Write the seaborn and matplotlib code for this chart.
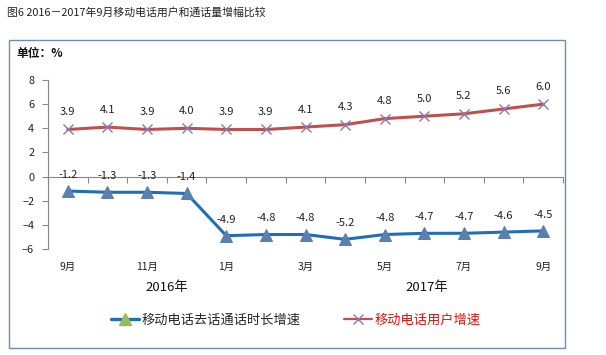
import matplotlib
matplotlib.use('Agg')
import matplotlib.pyplot as plt
import seaborn as sns
import pandas as pd
from matplotlib.patches import Rectangle
from matplotlib.lines import Line2D

# Data
months = ['9月', '10月', '11月', '12月', '1月', '2月', '3月', '4月', '5月', '6月', '7月', '8月', '9月']
call_growth = [-1.2, -1.3, -1.3, -1.4, -4.9, -4.8, -4.8, -5.2, -4.8, -4.7, -4.7, -4.6, -4.5]
user_growth = [3.9, 4.1, 3.9, 4.0, 3.9, 3.9, 4.1, 4.3, 4.8, 5.0, 5.2, 5.6, 6.0]
shown_months = [0, 2, 4, 6, 8, 10, 12]
year_labels = ['2016年', '2017年']
year_pos = [2.5, 9.05]
call_name = '移动电话去话通话时长增速'
user_name = '移动电话用户增速'

df = pd.DataFrame({'idx': range(len(months)), 'call': call_growth, 'user': user_growth})

sns.set_style('white')
plt.rcParams['font.family'] = ['Noto Sans CJK SC', 'DejaVu Sans']

W, H = 606, 355
fig = plt.figure(figsize=(W / 100, H / 100), dpi=100)
ax = fig.add_axes([48 / W, 1 - 249 / H, (563 - 48) / W, (249 - 80) / H])

blue = '#1F6FB8'
red = '#C0504D'

sns.lineplot(data=df, x='idx', y='user', ax=ax, color=red, linewidth=2.2,
             marker='x', markersize=7.5, markeredgecolor='#8A78B0', markeredgewidth=1.0)
sns.lineplot(data=df, x='idx', y='call', ax=ax, color=blue, linewidth=2.2,
             marker='^', markersize=8, markerfacecolor='#5A80AE', markeredgecolor='#5A80AE')

# data labels
for i, v in enumerate(user_growth):
    ax.annotate(f'{v:.1f}', (i, v), xytext=(0, 9), textcoords='offset points',
                ha='center', va='bottom', fontsize=8, color='#222222')
for i, v in enumerate(call_growth):
    ax.annotate(f'{v:.1f}', (i, v), xytext=(0, 8), textcoords='offset points',
                ha='center', va='bottom', fontsize=8, color='#222222')

ax.set_xlim(-0.5, len(months) - 0.5)
ax.set_ylim(-6, 8)
ax.set_yticks(range(-6, 9, 2))
ax.set_xticks([i - 0.5 for i in range(len(months) + 1)])
ax.set_xticklabels([])
ax.tick_params(axis='x', direction='out', length=4, color='#888888', bottom=True)
ax.tick_params(axis='y', direction='out', length=4, color='#888888', left=True,
               labelsize=7.8, labelcolor='#222222', pad=6)
ax.set_xlabel('')
ax.set_ylabel('')

for s in ['top', 'right']:
    ax.spines[s].set_visible(False)
ax.spines['bottom'].set_position(('data', 0))
ax.spines['bottom'].set_color('#888888')
ax.spines['left'].set_color('#888888')
ax.spines['bottom'].set_linewidth(0.8)
ax.spines['left'].set_linewidth(0.8)

# category labels below the plot
xt = ax.get_xaxis_transform()
for i in shown_months:
    ax.text(i, -0.107, months[i], transform=xt, ha='center', va='center',
            fontsize=7.5, color='#222222')
for lab, p in zip(year_labels, year_pos):
    ax.text(p, -0.225, lab, transform=xt, ha='center', va='center',
            fontsize=9.5, color='#111111')

# legend
handles = [
    Line2D([0], [0], color=blue, linewidth=2.4, marker='^', markersize=8,
           markerfacecolor='#9BBB59', markeredgecolor='#9BBB59'),
    Line2D([0], [0], color=red, linewidth=1.6, marker='x', markersize=7,
           markeredgecolor='#8A78B0'),
]
leg = fig.legend(handles, [call_name, user_name], loc='center', ncol=2,
                 bbox_to_anchor=(296 / W, 1 - 320 / H), frameon=False,
                 fontsize=9.5, handlelength=2.1, handletextpad=0.2,
                 columnspacing=3.3)
leg.get_texts()[1].set_color('#E01010')

# outer frame, title and unit
fig.patches.append(Rectangle((9 / W, 1 - 348 / H), (565 - 9) / W, (348 - 40) / H,
                             transform=fig.transFigure, fill=False,
                             edgecolor='#6E8DB5', linewidth=1.0))
fig.text(7 / W, 1 - 12 / H, '图6 2016－2017年9月移动电话用户和通话量增幅比较',
         ha='left', va='center', fontsize=7.8, color='#222222')
fig.text(16 / W, 1 - 54 / H, '单位：%', ha='left', va='center',
         fontsize=8.5, fontweight='bold', color='#111111')

fig.savefig('out.png', dpi=100)
